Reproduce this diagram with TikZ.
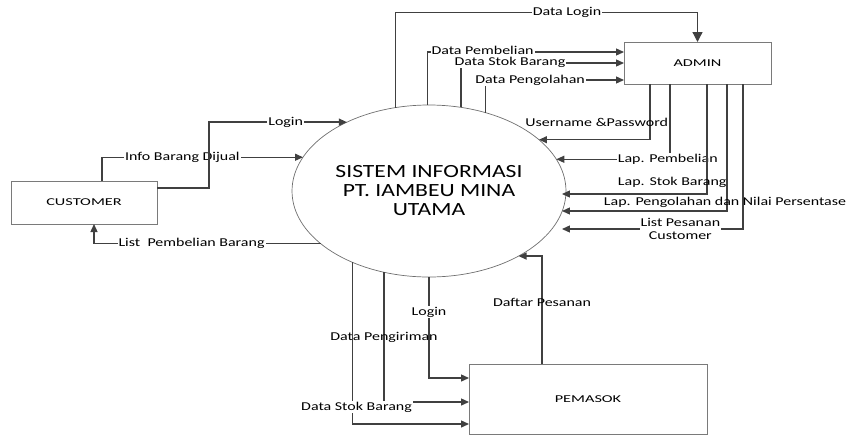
\documentclass[tikz,border=0pt]{standalone}
\usepackage{fontspec}
\setmainfont[FakeStretch=1.27]{Carlito}
\newfontfamily\lblfont[FakeStretch=1.33]{Carlito}
\newfontfamily\boxfont[FakeStretch=1.55]{Carlito}
\usetikzlibrary{arrows.meta,shapes.geometric}
\definecolor{linec}{HTML}{404040}
\definecolor{edgec}{HTML}{7A7A7A}
\begin{document}
\begin{tikzpicture}[x=1pt,y=-1pt,
  entity/.style={draw=edgec, line width=0.8pt, outer sep=0pt,
    font=\boxfont\fontsize{10.5}{12}\selectfont},
  process/.style={ellipse, draw=edgec!90!black, line width=0.7pt, outer sep=0pt,
    align=center, minimum width=266pt, minimum height=172pt,
    font=\fontsize{18.6}{19}\selectfont},
  flow/.style={draw=linec, line width=1.3pt, -{Triangle[length=8pt,width=7pt]}},
  lbl/.style={font=\lblfont\fontsize{12}{12}\selectfont, inner sep=1pt, text=black},
  lblw/.style={lbl, fill=white},
  tight/.style={inner ysep=0pt, text height=7.5pt, text depth=2pt}]
  \useasboundingbox (0,0) rectangle (851,437);

  \node[entity, minimum width=146pt, minimum height=43pt] (cust) at (84,202.5) {CUSTOMER};
  \node[entity, minimum width=147pt, minimum height=42pt] (admin) at (697.5,63) {ADMIN};
  \node[entity, minimum width=238pt, minimum height=70pt] (pemasok) at (588,399) {PEMASOK};
  \node[process] (sis) at (429,191) {SISTEM INFORMASI\\PT. IAMBEU MINA\\UTAMA};

  % customer
  \draw[flow] ([xshift=18pt]cust.north) |- (sis.165.5)
    node[lblw, pos=0.70] {Info Barang Dijual};
  \draw[flow] ([yshift=14.5pt]cust.east) -- ++(52,0) |- (sis.140)
    node[lblw, pos=0.778] {Login};
  \draw[flow] (sis.206.8) -| ([xshift=10pt]cust.south)
    node[lblw, pos=0.285] {List~ Pembelian Barang};

  % admin
  \draw[flow, -{Triangle[length=10pt,width=10pt]}] (sis.112.3) -- ++(0,-95) -| (admin.north)
    node[lblw, pos=0.284] {Data Login};
  \draw[flow] (sis.91) |- ([yshift=11pt]admin.west)
    node[lblw, tight, pos=0.64] {Data Pembelian};
  \draw[flow] (sis.69.7) |- (admin.west)
    node[lblw, tight, pos=0.65] {Data Stok Barang};
  \draw[flow] (sis.54.9) |- ([yshift=-17pt]admin.west)
    node[lblw, pos=0.66] {Data Pengolahan};
  \draw[flow] ([xshift=-47.5pt]admin.south) |- (sis.25.5)
    node[lbl, pos=0.74, anchor=base, yshift=13pt] {Username \&Password};
  \draw[flow] ([xshift=-27.5pt]admin.south) |- (sis.14.5)
    node[lblw, pos=0.51] {Lap. Pembelian};
  \draw[flow] ([xshift=9.5pt]admin.south) |- ([shift={(-4pt,-3pt)}]sis.east)
    node[lbl, pos=0.62, anchor=base, yshift=9pt] {Lap. Stok Barang};
  \draw[flow] ([xshift=29.5pt]admin.south) |- ([shift={(-4pt,-20pt)}]sis.east)
    node[lbl, pos=0.5, anchor=base, xshift=-2pt, yshift=6pt] {Lap. Pengolahan dan Nilai Persentase};
  \draw[flow] ([xshift=45.5pt]admin.south) |- ([shift={(-4pt,-38pt)}]sis.east)
    node[lblw, pos=0.673, align=center, font=\lblfont\fontsize{12}{12.5}\selectfont] {List Pesanan\\Customer};

  % pemasok
  \draw[flow] (sis.south) |- ([yshift=21pt]pemasok.west)
    node[lblw, pos=0.173] {Login};
  \draw[flow] (sis.241.6) |- ([yshift=-3pt]pemasok.west)
    node[lbl, pos=0.25] {Data Pengiriman};
  \draw[flow] (sis.223.4) |- ([yshift=-25pt]pemasok.west)
    node[lblw, pos=0.447, xshift=4pt] {Data Stok Barang};
  \draw[flow] ([xshift=-46pt]pemasok.north) |- (sis.324.2)
    node[lbl, pos=0.284] {Daftar Pesanan};
\end{tikzpicture}
\end{document}
